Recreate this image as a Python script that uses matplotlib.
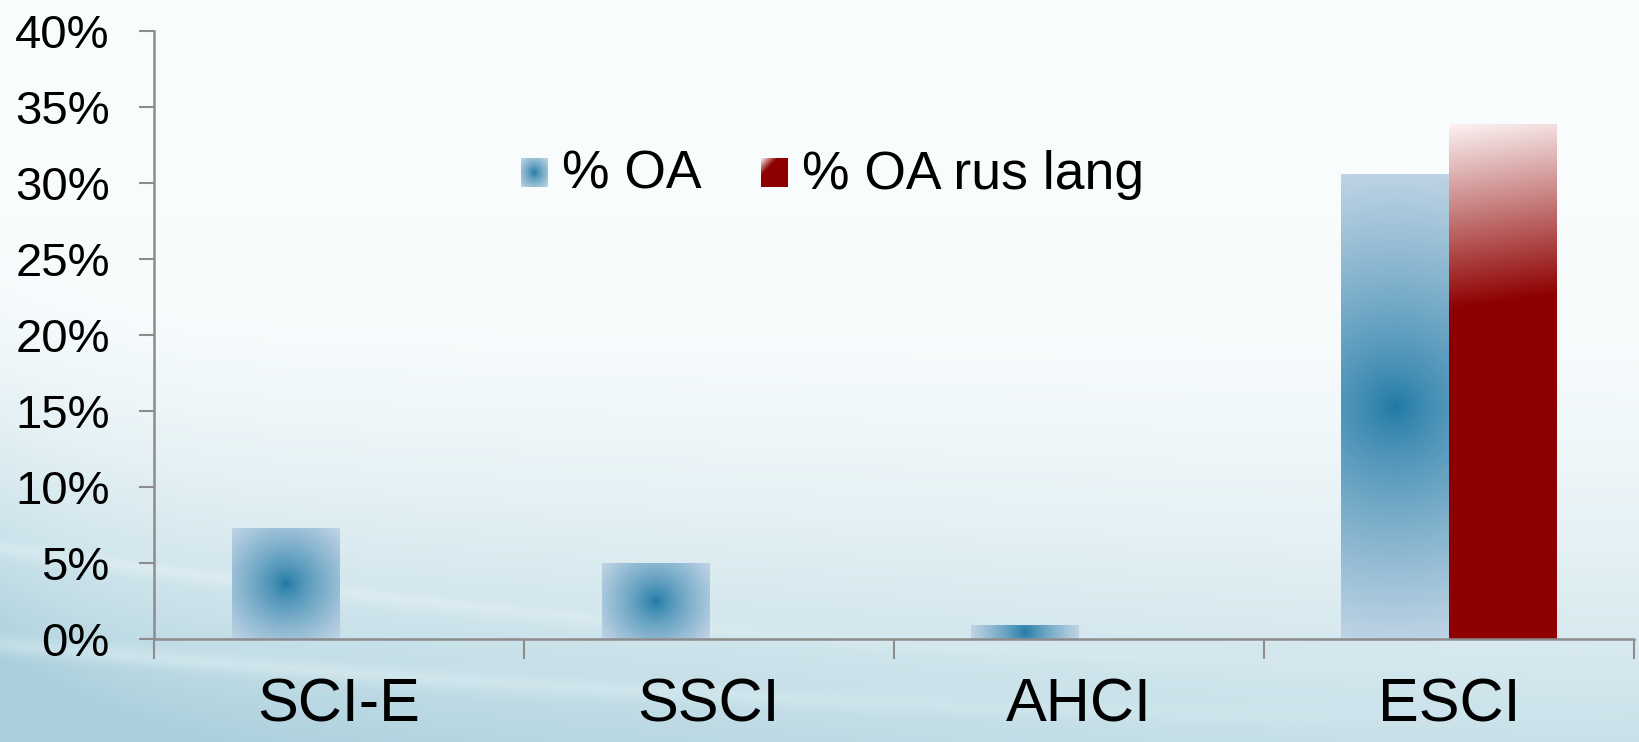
import numpy as np
import matplotlib
matplotlib.use("Agg")
import matplotlib.pyplot as plt
from matplotlib.colors import to_rgb
from matplotlib.ticker import PercentFormatter

categories = ["SCI-E", "SSCI", "AHCI", "ESCI"]
oa_share = [0.073, 0.050, 0.009, 0.306]
oa_rus_share = [0.0, 0.0, 0.0, 0.339]
series_names = ["% OA", "% OA rus lang"]
y_ticks = [0.0, 0.05, 0.10, 0.15, 0.20, 0.25, 0.30, 0.35, 0.40]

plt.rcParams["font.family"] = ["Liberation Sans", "DejaVu Sans"]

AXIS_GREY = "#8c8c8c"
BLUE_CENTER = np.array(to_rgb("#1c78a4"))
BLUE_EDGE = np.array(to_rgb("#bfd4e5"))
RED_TOP = np.array(to_rgb("#fbf2f2"))
RED_DARK = np.array(to_rgb("#8e0000"))

fig = plt.figure(figsize=(16.4, 7.42), dpi=100)

# soft slide-like background: white on top, light teal waves at the bottom
bg = fig.add_axes([0, 0, 1, 1], zorder=-5)
H, W = 371, 820
yy, xx = np.mgrid[0:1:H * 1j, 0:1:W * 1j]
t = np.clip((yy - 0.40) / 0.60, 0, 1) ** 1.5 * (0.60 + 0.40 * (1 - xx) ** 1.5)
t += 0.30 * np.exp(-xx / 0.07) * np.clip((yy - 0.30) / 0.70, 0, 1)
for y0, bend, wid, k in [(0.97, 0.10, 0.012, 0.25), (0.90, 0.16, 0.010, 0.15)]:
    yc = y0 - bend * (1 - xx) ** 2
    t -= k * np.exp(-((yy - yc) / wid) ** 2) * (1 - xx)
t = np.clip(t, 0, 1)
top_col = np.array(to_rgb("#f8fcfd"))
bot_col = np.array(to_rgb("#a9cfdc"))
bg.imshow(top_col + (bot_col - top_col) * t[..., None], aspect="auto",
          extent=(0, 1, 0, 1), interpolation="bilinear")
bg.set_axis_off()

ax = fig.add_axes([0.0938, 0.1388, 0.9024, 0.8189])
ax.set_facecolor("none")
ax.set_xlim(-0.5, len(categories) - 0.5)
ax.set_ylim(0, 0.40)

width = 0.29
x = np.arange(len(categories))
bars_oa = ax.bar(x - width / 2, oa_share, width, color="none", edgecolor="none")
bars_rus = ax.bar(x + width / 2, oa_rus_share, width, color="none", edgecolor="none")


def bar_pixels(rect):
    x0, y0 = rect.get_x(), rect.get_y()
    w, h = rect.get_width(), rect.get_height()
    (px0, py0), (px1, py1) = ax.transData.transform([(x0, y0), (x0 + w, y0 + h)])
    return (x0, x0 + w, y0, y0 + h), abs(px1 - px0), abs(py1 - py0)


def fill_radial(rect):
    ext, pw, ph = bar_pixels(rect)
    if ph < 1:
        return
    u = np.linspace(-pw / 2, pw / 2, 80)
    v = np.linspace(-ph / 2, ph / 2, max(int(ph / 2), 12))
    U, V = np.meshgrid(u, v)
    r = np.clip(np.hypot(U, V) / np.hypot(pw / 2, ph / 2), 0, 1) ** 0.75
    img = BLUE_CENTER + (BLUE_EDGE - BLUE_CENTER) * r[..., None]
    ax.imshow(img, extent=ext, aspect="auto", origin="lower",
              interpolation="bilinear", zorder=2)


def fill_linear(rect, stop=0.36, tilt=0.03):
    ext, pw, ph = bar_pixels(rect)
    if ph < 1:
        return
    U, V = np.meshgrid(np.linspace(0, 1, 60), np.linspace(0, 1, 300))
    s = np.clip((1 - V + tilt * U) / stop, 0, 1)
    img = RED_TOP + (RED_DARK - RED_TOP) * s[..., None]
    ax.imshow(img, extent=ext, aspect="auto", origin="lower",
              interpolation="bilinear", zorder=2)


for rect in bars_oa:
    fill_radial(rect)
for rect in bars_rus:
    fill_linear(rect)

# legend drawn by hand so the swatches can carry the same gradients
n = 40
U, V = np.meshgrid(np.linspace(-1, 1, n), np.linspace(-1, 1, n))
r = np.clip(np.hypot(U, V) / np.sqrt(2), 0, 1) ** 0.75
blue_swatch = BLUE_CENTER + (BLUE_EDGE - BLUE_CENTER) * r[..., None]
d = np.clip(((U + 1) + (1 - V)) / 1.2, 0, 1)  # light in the top-left corner
red_swatch = RED_TOP + (RED_DARK - RED_TOP) * d[..., None]

legend_items = [(blue_swatch, 0.2481, series_names[0]),
                (red_swatch, 0.4101, series_names[1])]
for swatch, lx, name in legend_items:
    ax.imshow(swatch, extent=(lx, lx + 0.0176, 0.7440, 0.7901), origin="lower",
              transform=ax.transAxes, aspect="auto", interpolation="bilinear",
              zorder=3)
    ax.text(lx + 0.0277, 0.7640, name, transform=ax.transAxes, fontsize=38.5,
            ha="left", va="center", zorder=3)

# axes styling
ax.set_xlim(-0.5, len(categories) - 0.5)
ax.set_ylim(0, 0.40)
for side in ["top", "right"]:
    ax.spines[side].set_visible(False)
for side in ["left", "bottom"]:
    ax.spines[side].set_color(AXIS_GREY)
    ax.spines[side].set_linewidth(1.8)

ax.set_yticks(y_ticks)
ax.yaxis.set_major_formatter(PercentFormatter(1.0, decimals=0))
ax.tick_params(axis="y", length=10.8, width=1.5, color=AXIS_GREY, pad=21,
               labelsize=34)

ax.set_xticks(np.arange(len(categories) + 1) - 0.5)
ax.set_xticklabels([])
ax.set_xticks(x, minor=True)
ax.set_xticklabels(categories, minor=True)
ax.tick_params(axis="x", which="major", length=14.4, width=1.5, color=AXIS_GREY)
ax.tick_params(axis="x", which="minor", length=0, pad=28, labelsize=44)

fig.savefig("out.png", dpi=100)
